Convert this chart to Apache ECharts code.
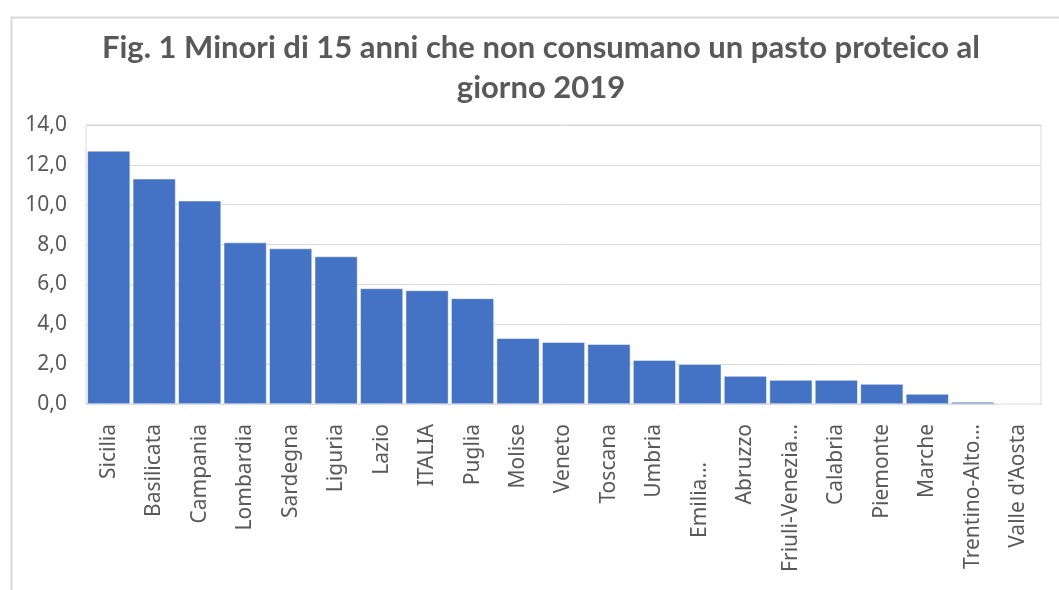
<!DOCTYPE html>
<html>
<head>
<meta charset="utf-8">
<script src="https://cdn.jsdelivr.net/npm/echarts@6/dist/echarts.min.js"></script>
<style>
  html, body { margin: 0; padding: 0; background: #fff; }
  #chart { width: 1059px; height: 590px; }
</style>
</head>
<body>
<div id="chart"></div>
<script>
const regions = [
  'Sicilia', 'Basilicata', 'Campania', 'Lombardia', 'Sardegna', 'Liguria',
  'Lazio', 'ITALIA', 'Puglia', 'Molise', 'Veneto', 'Toscana', 'Umbria',
  'Emilia…', 'Abruzzo', 'Friuli-Venezia…', 'Calabria', 'Piemonte',
  'Marche', 'Trentino-Alto…', "Valle d'Aosta"
];
const shares = [
  12.7, 11.3, 10.2, 8.1, 7.8, 7.4,
  5.8, 5.7, 5.3, 3.3, 3.1, 3.0, 2.2,
  2.0, 1.4, 1.2, 1.2, 1.0,
  0.5, 0.1, 0.0
];
const yTicks = [0, 2, 4, 6, 8, 10, 12, 14];

const textGray = '#595959';
const lineGray = '#d9d9d9';
const barBlue = '#4472c4';
const labelFont = '"Noto Sans", sans-serif';

const chart = echarts.init(document.getElementById('chart'));

chart.setOption({
  animation: false,
  backgroundColor: '#fff',
  title: {
    text: 'Fig. 1 Minori di 15 anni che non consumano un pasto proteico al\ngiorno 2019',
    left: 536,
    top: 23,
    textAlign: 'center',
    textStyle: {
      fontFamily: 'Lato, sans-serif',
      fontWeight: 'bold',
      fontSize: 31,
      lineHeight: 40,
      color: textGray
    }
  },
  graphic: [
    {
      type: 'rect',
      left: 9,
      top: 15,
      shape: { width: 1100, height: 620 },
      style: { fill: 'none', stroke: lineGray, lineWidth: 2 },
      silent: true
    }
  ],
  grid: {
    left: 86,
    right: 18,
    top: 125,
    bottom: 186,
    show: true,
    borderColor: lineGray,
    borderWidth: 1,
    backgroundColor: 'transparent'
  },
  xAxis: {
    type: 'category',
    data: regions,
    axisTick: { show: false },
    axisLine: { lineStyle: { color: lineGray, width: 1 } },
    axisLabel: {
      rotate: 90,
      interval: 0,
      margin: 20,
      fontFamily: labelFont,
      fontSize: 21,
      color: textGray,
      formatter: (v) => (v === 'Emilia…' ? '{pad|' + v + '}' : v),
      rich: {
        pad: {
          fontFamily: labelFont,
          fontSize: 21,
          color: textGray,
          padding: [0, 38, 0, 0]
        }
      }
    }
  },
  yAxis: {
    type: 'value',
    min: yTicks[0],
    max: yTicks[yTicks.length - 1],
    interval: 2,
    axisLine: { show: false },
    axisTick: { show: false },
    splitLine: { lineStyle: { color: lineGray, width: 1 } },
    axisLabel: {
      margin: 19,
      fontFamily: labelFont,
      fontSize: 21,
      color: textGray,
      formatter: (v) => v.toFixed(1).replace('.', ',')
    }
  },
  series: [
    {
      type: 'bar',
      data: shares,
      barCategoryGap: '6%',
      itemStyle: { color: barBlue, borderColor: '#ffffff', borderWidth: 0.5 }
    }
  ]
});
</script>
</body>
</html>
